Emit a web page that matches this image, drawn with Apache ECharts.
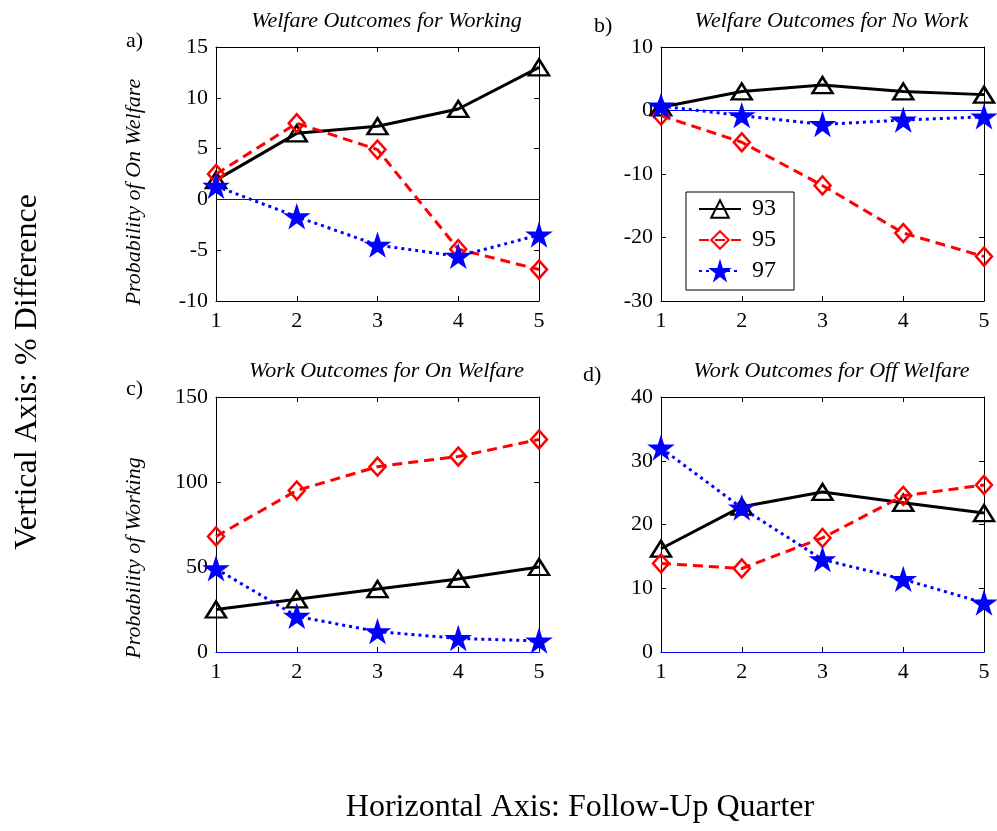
<!DOCTYPE html>
<html>
<head>
<meta charset="utf-8">
<script src="https://cdn.jsdelivr.net/npm/echarts@6/dist/echarts.min.js"></script>
<style>
  html, body { margin: 0; padding: 0; background: #fff; }
  #chart { width: 997px; height: 831px; }
</style>
</head>
<body>
<div id="chart"></div>
<script>
// follow-up quarters
const quarters = [1, 2, 3, 4, 5];

// a) Welfare outcomes for working
const welfareWorking93 = [1.9, 6.5, 7.2, 8.9, 13.0];
const welfareWorking95 = [2.5, 7.5, 4.9, -4.9, -6.9];
const welfareWorking97 = [1.3, -1.7, -4.5, -5.6, -3.5];

// b) Welfare outcomes for no work
const welfareNoWork93 = [0.5, 3.0, 4.0, 3.0, 2.5];
const welfareNoWork95 = [-0.8, -5.0, -11.8, -19.3, -23.0];
const welfareNoWork97 = [0.7, -0.8, -2.2, -1.5, -1.0];

// c) Work outcomes for on welfare
const workOnWelfare93 = [25, 31, 37, 43, 50];
const workOnWelfare95 = [68, 95, 109, 115, 125];
const workOnWelfare97 = [49, 21, 12, 8, 6.5];

// d) Work outcomes for off welfare
const workOffWelfare93 = [16.2, 22.8, 25.1, 23.4, 21.8];
const workOffWelfare95 = [13.9, 13.1, 17.9, 24.5, 26.2];
const workOffWelfare97 = [32.0, 22.6, 14.5, 11.4, 7.7];

// y-axis ranges per panel
const yRanges = [
  { min: -10, max: 15, interval: 5 },
  { min: -30, max: 10, interval: 10 },
  { min: 0, max: 150, interval: 50 },
  { min: 0, max: 40, interval: 10 }
];

const panelTitles = [
  "Welfare Outcomes for Working",
  "Welfare Outcomes for No Work",
  "Work Outcomes for On Welfare",
  "Work Outcomes for Off Welfare"
];

const panelData = [
  [welfareWorking93, welfareWorking95, welfareWorking97],
  [welfareNoWork93, welfareNoWork95, welfareNoWork97],
  [workOnWelfare93, workOnWelfare95, workOnWelfare97],
  [workOffWelfare93, workOffWelfare95, workOffWelfare97]
];

const seriesNames = ["93", "95", "97"];

const serif = "Liberation Serif";
const starPath = "path://M50,0 L61,35 L98,35 L68,57 L79,91 L50,70 L21,91 L32,57 L2,35 L39,35 Z";

const grids = [
  { left: 216, top: 47, width: 323, height: 254 },
  { left: 661, top: 47, width: 323, height: 254 },
  { left: 216, top: 397, width: 323, height: 255 },
  { left: 661, top: 397, width: 323, height: 255 }
];

const styles = [
  { color: "#000", type: "solid", symbol: "triangle", size: [20, 16], fill: "rgba(0,0,0,0)" },
  { color: "#ff0000", type: [10, 6], symbol: "diamond", size: [16, 18], fill: "rgba(0,0,0,0)" },
  { color: "#0000ff", type: [3, 4], symbol: starPath, size: [20, 20], fill: "#0000ff" }
];

let xAxes = [], yAxes = [], series = [], titles = [];

grids.forEach((g, i) => {
  // bottom / left axes with labels
  xAxes.push({
    gridIndex: i, type: "value", min: 1, max: 5, interval: 1,
    axisLine: { onZero: false, lineStyle: { color: "#000", width: 1 } },
    axisTick: { inside: true, length: 5, lineStyle: { color: "#000" } },
    axisLabel: { color: "#000", fontFamily: serif, fontSize: 22, margin: 9 },
    splitLine: { show: false }
  });
  yAxes.push({
    gridIndex: i, type: "value",
    min: yRanges[i].min, max: yRanges[i].max, interval: yRanges[i].interval,
    axisLine: { show: true, onZero: false, lineStyle: { color: "#000", width: 1 } },
    axisTick: { show: true, inside: true, length: 5, lineStyle: { color: "#000" } },
    axisLabel: { color: "#000", fontFamily: serif, fontSize: 22, margin: 8 },
    splitLine: { show: false }
  });
  // mirror top / right axes (box with ticks)
  xAxes.push({
    gridIndex: i, type: "value", min: 1, max: 5, interval: 1, position: "top",
    axisLine: { onZero: false, lineStyle: { color: "#000", width: 1 } },
    axisTick: { inside: true, length: 5, lineStyle: { color: "#000" } },
    axisLabel: { show: false },
    splitLine: { show: false }
  });
  yAxes.push({
    gridIndex: i, type: "value", position: "right",
    min: yRanges[i].min, max: yRanges[i].max, interval: yRanges[i].interval,
    axisLine: { show: true, onZero: false, lineStyle: { color: "#000", width: 1 } },
    axisTick: { show: true, inside: true, length: 5, lineStyle: { color: "#000" } },
    axisLabel: { show: false },
    splitLine: { show: false }
  });

  titles.push({
    text: panelTitles[i],
    left: g.left + g.width / 2 + 4,
    top: g.top - 42,
    textAlign: "center",
    textStyle: { fontFamily: serif, fontStyle: "italic", fontWeight: "normal", fontSize: 22, color: "#000" }
  });

  panelData[i].forEach((vals, k) => {
    const st = styles[k];
    const s = {
      name: seriesNames[k],
      type: "line",
      xAxisIndex: i * 2,
      yAxisIndex: i * 2,
      data: quarters.map((q, j) => [q, vals[j]]),
      symbol: st.symbol,
      symbolSize: st.size,
      symbolKeepAspect: true,
      showAllSymbol: true,
      color: st.color,
      lineStyle: { color: st.color, width: 3, type: st.type },
      itemStyle: { color: st.fill, borderColor: st.color, borderWidth: 2.5 },
      z: 3 + k,
      animation: false
    };
    if (k === 0) {
      s.markLine = {
        silent: true,
        symbol: "none",
        label: { show: false },
        lineStyle: { color: "#0000ff", width: 1, type: "solid" },
        data: [{ yAxis: 0 }],
        z: 2
      };
    }
    series.push(s);
  });
});

const panelLabels = [
  { text: "a)", x: 126, y: 30 },
  { text: "b)", x: 594, y: 15 },
  { text: "c)", x: 126, y: 378 },
  { text: "d)", x: 583, y: 364 }
];

const graphics = panelLabels.map(p => ({
  type: "text", left: p.x, top: p.y,
  style: { text: p.text, font: "22px " + serif, fill: "#000" }
}));

graphics.push({
  type: "text", x: 134, y: 192, rotation: Math.PI / 2,
  style: { text: "Probability of On Welfare", font: "italic 22px " + serif, fill: "#000", align: "center", verticalAlign: "middle" }
});
graphics.push({
  type: "text", x: 134, y: 558, rotation: Math.PI / 2,
  style: { text: "Probability of Working", font: "italic 22px " + serif, fill: "#000", align: "center", verticalAlign: "middle" }
});
graphics.push({
  type: "text", x: 28, y: 372, rotation: Math.PI / 2,
  style: { text: "Vertical Axis: % Difference", font: "32px " + serif, fill: "#000", align: "center", verticalAlign: "middle" }
});
graphics.push({
  type: "text", x: 580, y: 808,
  style: { text: "Horizontal Axis: Follow-Up Quarter", font: "32px " + serif, fill: "#000", align: "center", verticalAlign: "middle" }
});

const chart = echarts.init(document.getElementById("chart"), null, { renderer: "canvas" });
chart.setOption({
  backgroundColor: "#fff",
  animation: false,
  title: titles,
  grid: grids.map(g => Object.assign({ containLabel: false, outerBoundsMode: "none" }, g)),
  xAxis: xAxes,
  yAxis: yAxes,
  legend: {
    data: seriesNames,
    orient: "vertical",
    left: 686,
    top: 192,
    padding: [5, 18, 7, 12],
    itemGap: 7,
    itemWidth: 42,
    itemHeight: 22,
    backgroundColor: "#fff",
    borderColor: "#000",
    borderWidth: 1,
    borderRadius: 0,
    textStyle: { fontFamily: serif, fontSize: 24, color: "#000", padding: [0, 0, 0, 6] },
    selectedMode: false
  },
  graphic: graphics,
  series: series
});
</script>
</body>
</html>
